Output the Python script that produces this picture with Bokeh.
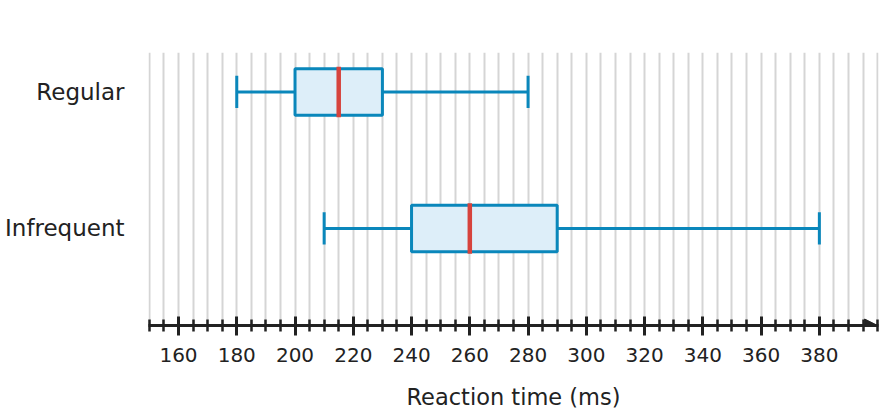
from bokeh.plotting import figure
from bokeh.models import FixedTicker, Range1d, Arrow, NormalHead
from bokeh.embed import file_html
from bokeh.resources import INLINE

# ---- data ----
categories = ["Regular", "Infrequent"]
whisker_low = [180, 210]
q1 = [200, 240]
median = [215, 260]
q3 = [230, 290]
whisker_high = [280, 380]

x_major_ticks = list(range(160, 381, 20))
x_minor_ticks = list(range(150, 401, 5))
x_label = "Reaction time (ms)"

# ---- styling ----
BLUE = "#0a87bb"
FILL = "#ddeef9"
RED = "#d6433d"
GRID = "#d5d5d5"
DARK = "#222222"
FONT = "DejaVu Sans"

n = len(categories)
ypos = [n - i for i in range(n)]
box_h = 0.34
cap_h = 0.237
med_h = 0.37

p = figure(width=881, height=412, output_backend="svg", toolbar_location=None,
           x_range=Range1d(149.7, 400.3), y_range=Range1d(0.289, n + 0.289),
           min_border_left=148, min_border_right=3, min_border_top=52,
           min_border_bottom=10)
p.outline_line_color = None
p.background_fill_color = "white"

# grid
p.ygrid.visible = False
p.xgrid.ticker = FixedTicker(ticks=x_minor_ticks)
p.xgrid.grid_line_color = GRID
p.xgrid.grid_line_width = 2

# x axis
xa = p.xaxis[0]
xa.ticker = FixedTicker(ticks=x_major_ticks, minor_ticks=x_minor_ticks)
xa.axis_line_color = DARK
xa.axis_line_width = 3
xa.major_tick_line_color = DARK
xa.major_tick_line_width = 3
xa.major_tick_in = 9
xa.major_tick_out = 10
xa.minor_tick_line_color = DARK
xa.minor_tick_line_width = 2.5
xa.minor_tick_in = 6
xa.minor_tick_out = 6
xa.major_label_text_font = FONT
xa.major_label_text_font_size = "20px"
xa.major_label_text_color = DARK
xa.major_label_standoff = 12
xa.axis_label = x_label
xa.axis_label_text_font = FONT
xa.axis_label_text_font_size = "22.5px"
xa.axis_label_text_font_style = "normal"
xa.axis_label_text_color = DARK
xa.axis_label_standoff = 19

# y axis
ya = p.yaxis[0]
ya.ticker = FixedTicker(ticks=ypos)
ya.major_label_overrides = {y: c for y, c in zip(ypos, categories)}
ya.axis_line_color = None
ya.major_tick_line_color = None
ya.minor_tick_line_color = None
ya.major_tick_in = 0
ya.major_tick_out = 0
ya.major_label_text_font = FONT
ya.major_label_text_font_size = "23px"
ya.major_label_text_color = DARK
ya.major_label_standoff = 24

# whiskers
p.segment(x0=whisker_low, y0=ypos, x1=q1, y1=ypos, line_color=BLUE, line_width=3)
p.segment(x0=q3, y0=ypos, x1=whisker_high, y1=ypos, line_color=BLUE, line_width=3)
# caps
p.segment(x0=whisker_low, y0=[y - cap_h / 2 for y in ypos], x1=whisker_low,
          y1=[y + cap_h / 2 for y in ypos], line_color=BLUE, line_width=3)
p.segment(x0=whisker_high, y0=[y - cap_h / 2 for y in ypos], x1=whisker_high,
          y1=[y + cap_h / 2 for y in ypos], line_color=BLUE, line_width=3)
# boxes
p.hbar(y=ypos, left=q1, right=q3, height=box_h, fill_color=FILL,
       line_color=BLUE, line_width=3)
# medians
p.segment(x0=median, y0=[y - med_h / 2 for y in ypos], x1=median,
          y1=[y + med_h / 2 for y in ypos], line_color=RED, line_width=4.5)

# axis arrow head
p.add_layout(Arrow(end=NormalHead(size=13, fill_color=DARK, line_color=DARK),
                   line_color=DARK, line_width=3,
                   x_start=396, x_end=400, y_start=p.y_range.start, y_end=p.y_range.start))

open("out.html", "w").write(file_html(p, INLINE))
